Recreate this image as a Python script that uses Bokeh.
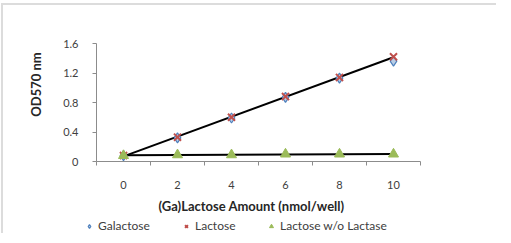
import numpy as np
from bokeh.plotting import figure
from bokeh.models import FixedTicker, Legend, LegendItem, Label, Range1d
from bokeh.embed import file_html
from bokeh.resources import INLINE

amount = [0, 2, 4, 6, 8, 10]
galactose = [0.08, 0.32, 0.59, 0.87, 1.13, 1.36]
lactose = [0.08, 0.33, 0.60, 0.88, 1.14, 1.42]
no_lactase = [0.08, 0.09, 0.09, 0.10, 0.10, 0.10]
y_ticks = [0, 0.4, 0.8, 1.2, 1.6]
y_tick_labels = ["0", "0.4", "0.8", "1.2", "1.6"]
series_names = ["Galactose", "Lactose", "Lactose w/o Lactase"]
x_title_text = "(Ga)Lactose Amount (nmol/well)"
y_title_text = "OD570 nm"

FONT = "Lato"
TXT = "#404040"
AX = "#8c8c8c"

# layout (pixels on the canvas)
W, H = 495, 230
ML, MR, MT, MB = 12, 6, 4, 0
FW, FH = W - ML - MR, H - MT - MB
X0_PX, X_PX_PER = 93 - ML, 27.0     # canvas px of x=-1 (relative to frame), px per unit
Y0_PX, Y_PX_PER = 156 - MT, 73.75   # canvas px of y=0 (relative to frame top), px per unit
x_start = -1 - X0_PX / X_PX_PER
x_end = x_start + FW / X_PX_PER
y_end = Y0_PX / Y_PX_PER
y_start = y_end - FH / Y_PX_PER

p = figure(width=W, height=H, output_backend="svg", toolbar_location=None,
           x_range=Range1d(x_start, x_end), y_range=Range1d(y_start, y_end),
           min_border_left=ML, min_border_right=MR, min_border_top=MT, min_border_bottom=MB,
           background_fill_color="white", border_fill_color="white")
p.styles = {"border-left": "2px solid #dcdcdc", "border-top": "2px solid #dcdcdc",
            "margin-left": "1px", "margin-top": "3px"}
p.outline_line_color = None
p.grid.grid_line_color = None

# x axis
p.xaxis.fixed_location = 0
p.xaxis.bounds = (-1, 11)
p.xaxis.ticker = FixedTicker(ticks=amount, minor_ticks=[-1, 1, 3, 5, 7, 9, 11])
p.xaxis.major_tick_line_color = None
p.xaxis.major_tick_out = 0
p.xaxis.major_tick_in = 0
p.xaxis.minor_tick_line_color = AX
p.xaxis.minor_tick_out = 4
p.xaxis.minor_tick_in = 0
p.xaxis.axis_line_color = AX
p.xaxis.major_label_standoff = 15
p.xaxis.major_label_text_font = FONT
p.xaxis.major_label_text_font_size = "11px"
p.xaxis.major_label_text_color = TXT

# y axis
p.yaxis.fixed_location = -1
p.yaxis.bounds = (0, 1.6)
p.yaxis.ticker = FixedTicker(ticks=y_ticks, minor_ticks=[])
p.yaxis.major_label_overrides = {t: l for t, l in zip(y_ticks, y_tick_labels)}
p.yaxis.major_tick_line_color = AX
p.yaxis.major_tick_out = 4
p.yaxis.major_tick_in = 0
p.yaxis.axis_line_color = AX
p.yaxis.major_label_standoff = 14
p.yaxis.major_label_text_font = FONT
p.yaxis.major_label_text_font_size = "11px"
p.yaxis.major_label_text_color = TXT

# trend lines
x_arr = np.array(amount, dtype=float)
for ys in [no_lactase, lactose]:
    k, b = np.polyfit(x_arr, np.array(ys), 1)
    xs = [amount[0], amount[-1]]
    p.line(xs, [k * xs[0] + b, k * xs[1] + b], line_color="black", line_width=2)

r_gal = p.scatter(amount, galactose, marker="diamond", size=10,
                  fill_color="#b9cde5", line_color="#4f81bd", line_width=1.2)
r_lac = p.scatter(amount, lactose, marker="x", size=10,
                  line_color="#c0504d", line_width=2)
r_no = p.scatter(amount, no_lactase, marker="triangle", size=10,
                 fill_color="#9bbb59", line_color="#9bbb59")

# titles (screen units relative to the frame's bottom-left corner)
p.add_layout(Label(x=236, y=30, x_units="screen", y_units="screen",
                   text=x_title_text, text_align="center", text_baseline="middle",
                   text_font=FONT, text_font_size="13px", text_font_style="bold",
                   text_color="#262626"))
p.add_layout(Label(x=20, y=151, x_units="screen", y_units="screen",
                   text=y_title_text, angle=np.pi / 2, text_align="center",
                   text_baseline="middle", text_font=FONT, text_font_size="13px",
                   text_font_style="bold", text_color="#262626"))

# one legend per series, so each entry sits where the reference has it
for name, r, vx in zip(series_names, [r_gal, r_lac, r_no], [69, 166, 251]):
    lg = Legend(items=[LegendItem(label=name, renderers=[r])],
                location=(vx, 2), orientation="horizontal",
                border_line_color=None, background_fill_alpha=0,
                padding=0, margin=0, spacing=0, label_standoff=4,
                glyph_width=10, glyph_height=10,
                label_text_font=FONT, label_text_font_size="12px",
                label_text_color=TXT, label_height=10)
    p.add_layout(lg, "center")

open("out.html", "w").write(file_html(p, INLINE))
